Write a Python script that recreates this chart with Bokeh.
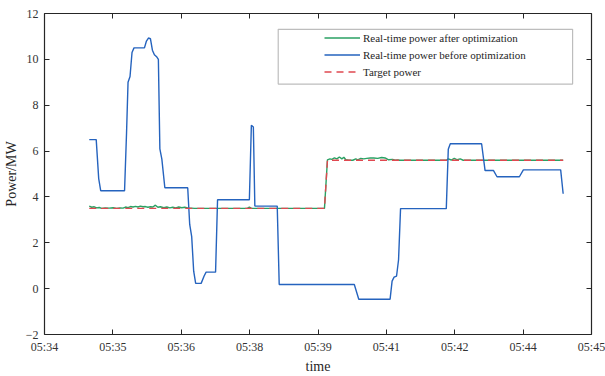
from bokeh.plotting import figure
from bokeh.models import (FixedTicker, LinearAxis, Range1d, Legend, LegendItem,
                          BoxAnnotation)
from bokeh.embed import file_html
from bokeh.resources import INLINE

# ---- data (x in minutes after 05:34) ----
tick_pos = [i * 11 / 8 for i in range(9)]
tick_labels = ["05:34", "05:35", "05:36", "05:38", "05:39", "05:41", "05:42", "05:44", "05:45"]
y_ticks = [-2, 0, 2, 4, 6, 8, 10, 12]

before_x = [0.90, 1.04, 1.09, 1.13, 1.61, 1.65, 1.68, 1.72, 1.76, 1.80, 2.01, 2.05, 2.09, 2.13,
            2.17, 2.21, 2.26, 2.29, 2.32, 2.36, 2.42, 2.88, 2.92, 2.96, 3.00, 3.04, 3.15, 3.21,
            3.25, 3.44, 3.48, 4.12, 4.16, 4.20, 4.23, 4.68, 4.72, 6.23, 6.32, 6.95, 6.99, 7.03,
            7.08, 7.12, 7.16, 8.08, 8.12, 8.16, 8.79, 8.86, 9.03, 9.10, 9.55, 9.63, 10.38, 10.43]
before_y = [6.50, 6.50, 4.80, 4.27, 4.27, 6.80, 9.00, 9.25, 10.30, 10.50, 10.50, 10.80, 10.93, 10.90,
            10.40, 10.20, 10.10, 10.00, 6.10, 5.65, 4.40, 4.40, 2.80, 2.27, 0.76, 0.23, 0.23, 0.55,
            0.72, 0.72, 3.88, 3.88, 7.13, 7.05, 3.60, 3.60, 0.18, 0.18, -0.46, -0.46, 0.33, 0.50,
            0.55, 1.26, 3.49, 3.49, 6.08, 6.32, 6.32, 5.15, 5.15, 4.88, 4.88, 5.18, 5.18, 4.14]

after_x = [0.90, 0.95, 1.00, 1.05, 1.10, 1.15, 1.22, 1.30, 1.38, 1.45, 1.52, 1.58, 1.63, 1.68,
           1.73, 1.78, 1.83, 1.88, 1.93, 1.98, 2.03, 2.08, 2.13, 2.18, 2.23, 2.28, 2.33, 2.40,
           2.46, 2.52, 2.58, 2.64, 2.70, 2.76, 2.82, 2.88, 2.95, 3.02, 4.08, 4.12, 4.16, 5.63,
           5.69, 5.74, 5.78, 5.83, 5.88, 5.93, 5.98, 6.02, 6.06, 6.12, 6.20, 6.26, 6.30, 6.36,
           6.42, 6.48, 6.55, 6.62, 6.70, 6.78, 6.85, 6.92, 7.00, 7.05, 7.10, 7.16, 8.08, 8.12,
           8.18, 8.24, 8.30, 8.36, 8.42, 10.43]
after_y = [3.60, 3.55, 3.57, 3.52, 3.54, 3.50, 3.52, 3.51, 3.53, 3.50, 3.52, 3.51, 3.56, 3.53,
           3.58, 3.56, 3.59, 3.56, 3.60, 3.57, 3.58, 3.55, 3.57, 3.56, 3.64, 3.55, 3.57, 3.53,
           3.56, 3.52, 3.55, 3.52, 3.56, 3.53, 3.55, 3.52, 3.51, 3.50, 3.50, 3.56, 3.50, 3.50,
           5.62, 5.66, 5.64, 5.70, 5.66, 5.74, 5.66, 5.73, 5.62, 5.60, 5.60, 5.66, 5.62, 5.68,
           5.66, 5.68, 5.70, 5.70, 5.68, 5.72, 5.70, 5.62, 5.64, 5.60, 5.61, 5.60, 5.60, 5.66,
           5.61, 5.68, 5.62, 5.66, 5.60, 5.60]

target_x = [0.90, 5.63, 5.69, 10.43]
target_y = [3.50, 3.50, 5.60, 5.60]

FONT = "Liberation Serif"
AX = "#262626"

p = figure(width=605, height=376, output_backend="svg", toolbar_location=None,
           x_range=Range1d(0, 11), y_range=Range1d(-2, 12),
           min_border_left=43, min_border_right=14, min_border_top=13, min_border_bottom=40)
p.xgrid.visible = False
p.ygrid.visible = False
p.outline_line_color = None
p.background_fill_color = "white"

r_after = p.line(after_x, after_y, line_color="#2aa163", line_width=1.4)
r_before = p.line(before_x, before_y, line_color="#2563be", line_width=1.4)
r_target = p.line(target_x, target_y, line_color="#e04850", line_width=1.4, line_dash="7 5")

def style(ax):
    ax.axis_line_color = AX
    ax.axis_line_width = 1.2
    ax.major_tick_line_color = AX
    ax.major_tick_in = 5
    ax.major_tick_out = 0
    ax.minor_tick_line_color = None
    ax.major_label_text_font = FONT
    ax.major_label_text_font_size = "12px"
    ax.major_label_text_color = "#333333"
    ax.axis_label_text_font = FONT
    ax.axis_label_text_font_size = "14px"
    ax.axis_label_text_font_style = "normal"
    ax.axis_label_text_color = "#262626"

xt = FixedTicker(ticks=tick_pos)
yt = FixedTicker(ticks=y_ticks)

p.xaxis.ticker = xt
p.xaxis.major_label_overrides = {t: l for t, l in zip(tick_pos, tick_labels)}
p.xaxis.axis_label = "time"
p.xaxis.major_label_standoff = 5
p.xaxis.axis_label_standoff = 2
p.yaxis.ticker = yt
p.yaxis.axis_label = "Power/MW"
p.yaxis.major_label_standoff = 6
p.yaxis.axis_label_standoff = 4
style(p.xaxis[0])
style(p.yaxis[0])

top = LinearAxis(ticker=xt)
right = LinearAxis(ticker=yt)
style(top)
style(right)
top.major_label_overrides = {t: "" for t in tick_pos}
right.major_label_overrides = {t: "" for t in y_ticks}
top.major_label_standoff = 0
right.major_label_standoff = 0
p.add_layout(top, "above")
p.add_layout(right, "right")

# legend frame
p.add_layout(BoxAnnotation(left=4.70, right=10.62, top=11.31, bottom=8.92,
                           fill_alpha=0, line_color="#262626", line_width=1.2))

legend = Legend(items=[LegendItem(label="Real-time power after optimization", renderers=[r_after]),
                       LegendItem(label="Real-time power before optimization", renderers=[r_before]),
                       LegendItem(label="Target power", renderers=[r_target])],
                location=(280, 254), padding=0, margin=0, spacing=0,
                glyph_width=36, glyph_height=17, label_height=17, label_standoff=3,
                label_text_font=FONT, label_text_font_size="11px", label_text_color="#262626",
                border_line_color=None, background_fill_alpha=0)
p.add_layout(legend, "center")

open("out.html", "w").write(file_html(p, INLINE))
